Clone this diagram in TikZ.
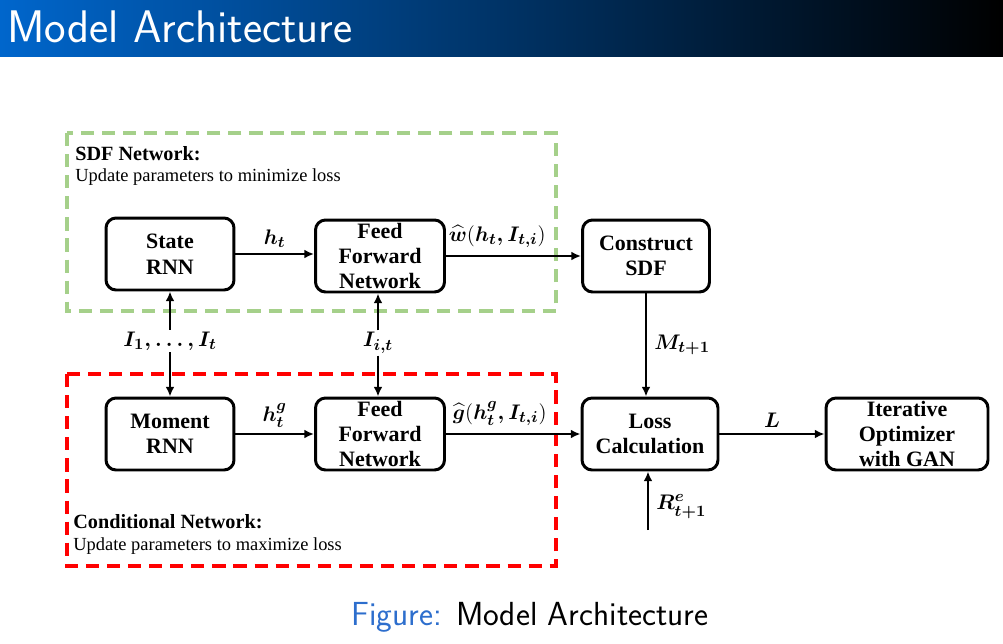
\documentclass[tikz,border=0pt]{standalone}
\usepackage{fontspec}
\usepackage{amsmath}
\setmainfont{Liberation Serif}
\usetikzlibrary{arrows.meta}

\definecolor{sdfgreen}{RGB}{165,208,138}
\definecolor{figblue}{RGB}{45,110,205}
\definecolor{barblue}{RGB}{0,102,204}
\definecolor{barmid}{RGB}{0,62,128}

\tikzset{
    block/.style={draw, line width=1.7pt, rounded corners=0.2cm, align=center,
        inner sep=0pt, minimum height=1.44cm, font=\fontsize{12.5}{14.5}\selectfont\bfseries},
    flow/.style={line width=1.5pt, -{Latex[length=5.5pt,width=5pt]}},
    lbl/.style={inner sep=1pt, font=\fontsize{12.5}{14}\selectfont},
    netframe/.style={line width=1.8pt, dash pattern=on 7.5pt off 4.5pt},
    nettitle/.style={anchor=west, inner sep=0pt, font=\fontsize{11.5}{13}\selectfont\bfseries},
    netnote/.style={anchor=west, inner sep=0pt, font=\fontsize{10.5}{13}\selectfont},
}

\begin{document}
\begin{tikzpicture}[x=0.02cm, y=-0.02cm]
            \useasboundingbox (0,0) rectangle (1003,643);
            \shade[left color=barblue, middle color=barmid, right color=black] (0,0) rectangle (1003,56);
            \node[anchor=west, text=white, font=\sffamily\fontsize{26}{30}\selectfont] (title) at (1,27) {Model Architecture};

            \draw[netframe, sdfgreen] (67,133) rectangle (556,311);
            \draw[netframe, red] (67,374) rectangle (556,566);
            \node[nettitle] (sdftitle) at (75,154) {SDF Network:};
            \node[netnote] (sdfnote) at (75,177) {Update parameters to minimize loss};
            \node[nettitle] (condtitle) at (73,522) {Conditional Network:};
            \node[netnote] (condnote) at (73,546) {Update parameters to maximize loss};

            \foreach \name/\x/\y/\w/\txt in {staternn/170/254/2.56/{State\\RNN},
                fftop/380/256/2.58/{Feed\\Forward\\Network},
                sdf/646/256/2.54/{Construct\\SDF},
                momentrnn/170/434/2.56/{Moment\\RNN},
                ffbot/380/434/2.58/{Feed\\Forward\\Network},
                loss/650/434/2.72/{Loss\\Calculation},
                optim/907/434/3.24/{Iterative\\Optimizer\\with GAN}}{
                \node[block, minimum width=\w cm] (\name) at (\x,\y) {\txt};
            }

            \node[lbl] (inall) at (170,341) {$\boldsymbol{I_1,\dots,I_t}$};
            \node[lbl] (inone) at (378,343) {$\boldsymbol{I_{i,t}}$};
            \coordinate (rin) at (648,530);

            \draw[flow] (staternn) -- node[lbl, above=2pt] {$\boldsymbol{h_t}$} (fftop.west |- staternn);
            \draw[flow] (fftop) -- node[lbl, above=3pt, pos=0.38] {$\widehat{\boldsymbol{w}}(\boldsymbol{h_t,I_{t,i}})$} (sdf);
            \draw[flow] (momentrnn) -- node[lbl, above=2pt] {$\boldsymbol{h_t^g}$} (ffbot);
            \draw[flow] (ffbot) -- node[lbl, above=3pt, pos=0.4] {$\widehat{\boldsymbol{g}}(\boldsymbol{h_t^g,I_{t,i}})$} (loss);
            \draw[flow] (loss) -- node[lbl, above=2pt] {$\boldsymbol{L}$} (optim);
            \draw[flow] (sdf) -- node[lbl, right=3pt] {$\boldsymbol{M_{t+1}}$} (sdf |- loss.north);
            \draw[flow] (rin) -- node[lbl, right=3pt, pos=0.4] {$\boldsymbol{R_{t+1}^e}$} (rin |- loss.south);
            \draw[flow] (inall) -- (inall |- staternn.south);
            \draw[flow] (inall) -- (inall |- momentrnn.north);
            \draw[flow] (inone) -- (inone |- fftop.south);
            \draw[flow] (inone) -- (inone |- ffbot.north);

            \node[font=\sffamily\fontsize{19}{23}\selectfont] (caption) at (530,617) {\textcolor{figblue}{Figure:} Model Architecture};
\end{tikzpicture}
\end{document}
